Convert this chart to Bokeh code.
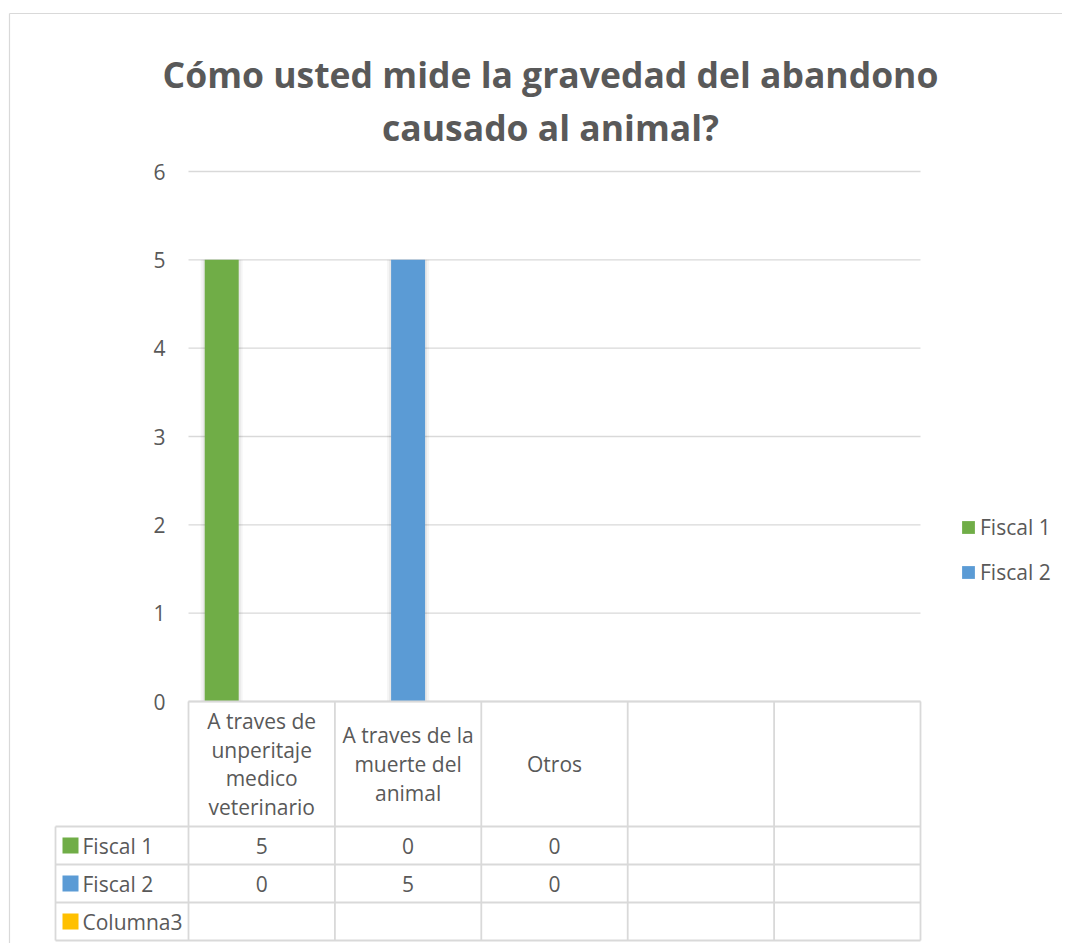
from bokeh.plotting import figure
from bokeh.models import Range1d, Legend, LegendItem, ColumnDataSource
from bokeh.core.properties import value
from bokeh.embed import file_html
from bokeh.resources import INLINE

# ---------------- data ----------------
title_lines = ["Cómo usted mide la gravedad del abandono", "causado al animal?"]
categories = ["A traves de\nunperitaje\nmedico\nveterinario",
              "A traves de la\nmuerte del\nanimal",
              "Otros", "", ""]
series_names = ["Fiscal 1", "Fiscal 2", "Columna3"]
fiscal_1 = [5, 0, 0, None, None]
fiscal_2 = [0, 5, 0, None, None]
columna_3 = [None, None, None, None, None]
y_ticks = [0, 1, 2, 3, 4, 5, 6]
y_tick_labels = ["0", "1", "2", "3", "4", "5", "6"]

series_values = [fiscal_1, fiscal_2, columna_3]
series_colors = ["#70AD47", "#5B9BD5", "#FFC000"]
series_in_legend = [True, True, False]

# ---------------- layout (canvas pixels) ----------------
W, H = 1062, 943
X0_PX, X5_PX = 188, 920          # category axis start / end
Y0_PX, Y6_PX = 701, 171          # value 0 / value 6
PXU_X = (X5_PX - X0_PX) / len(categories)
PXU_Y = (Y0_PX - Y6_PX) / (y_ticks[-1] - y_ticks[0])


def X(px):
    return (px - X0_PX) / PXU_X


def Y(py):
    return (Y0_PX - py) / PXU_Y


TEXT = "#595959"
GRID = "#D9D9D9"
FONT = value("Open Sans")
FS = value("21px")

p = figure(width=W, height=H, output_backend="svg", toolbar_location=None,
           x_axis_type=None, y_axis_type=None,
           x_range=Range1d(X(0), X(W)), y_range=Range1d(Y(H), Y(0)),
           min_border=0, outline_line_color=None)
p.background_fill_color = "white"
p.border_fill_color = "white"

# outer chart border
p.segment(x0=[X(9), X(9)], y0=[Y(13), Y(13)], x1=[X(9), X(W)], y1=[Y(H), Y(13)],
          line_color=GRID, line_width=1.2)

# title
p.text(x=[X(550)] * len(title_lines), y=[Y(73), Y(126)], text=title_lines,
       text_font=FONT, text_font_size=value("35.5px"), text_font_style="bold",
       text_color=TEXT, text_align="center", text_baseline="middle")

# gridlines (from tick values)
ncat = len(categories)
p.segment(x0=[0] * len(y_ticks), x1=[ncat] * len(y_ticks), y0=y_ticks, y1=y_ticks,
          line_color=GRID, line_width=1.4)

# y tick labels
p.text(x=[X(165)] * len(y_ticks), y=y_ticks, text=y_tick_labels,
       text_font=FONT, text_font_size=FS, text_color=TEXT,
       text_align="right", text_baseline="middle")

# bars
nser = len(series_names)
bar_w = 34 / PXU_X
step = 40 / PXU_X
bar_renderers = []
for s, (vals, col) in enumerate(zip(series_values, series_colors)):
    xs, tops = [], []
    for i, v in enumerate(vals):
        if v is not None:
            xs.append(i + 0.5 + (s - (nser - 1) / 2) * step)
            tops.append(v)
    src = ColumnDataSource(dict(x=xs, top=tops))
    # soft shadow
    p.vbar(x="x", top="top", bottom=0, width=bar_w + 8 / PXU_X, source=src,
           fill_color="black", fill_alpha=0.04, line_color=None)
    p.vbar(x="x", top="top", bottom=0, width=bar_w + 4 / PXU_X, source=src,
           fill_color="black", fill_alpha=0.05, line_color=None)
    r = p.vbar(x="x", top="top", bottom=0, width=bar_w, source=src,
               fill_color=col, line_color=None)
    bar_renderers.append(r)

# data table
row_top = 826
row_h = 38
row_edges = [row_top + k * row_h for k in range(nser + 1)]
row_centers = [row_top + (k + 0.5) * row_h for k in range(nser)]
left_px = 55

hx0 = [0] + [X(left_px)] * len(row_edges)
hx1 = [ncat] * (len(row_edges) + 1)
hy = [Y(Y0_PX)] + [Y(e) for e in row_edges]
p.segment(x0=hx0, x1=hx1, y0=hy, y1=hy, line_color=GRID, line_width=1.8)
vx = [X(left_px)] + list(range(ncat + 1))
vy0 = [Y(row_edges[0])] + [Y(Y0_PX)] * (ncat + 1)
vy1 = [Y(row_edges[-1])] * (ncat + 2)
p.segment(x0=vx, x1=vx, y0=vy0, y1=vy1, line_color=GRID, line_width=1.8)

# category header texts
p.text(x=[i + 0.5 for i in range(ncat)], y=[Y((Y0_PX + row_top) / 2)] * ncat,
       text=categories, text_font=FONT, text_font_size=FS,
       text_color=TEXT, text_align="center", text_baseline="middle",
       text_line_height=1.02)

# row keys & labels
p.scatter(x=[X(70)] * nser, y=[Y(c) for c in row_centers], marker="square",
          size=16, fill_color=series_colors, line_color=None)
p.text(x=[X(82)] * nser, y=[Y(c) for c in row_centers], text=series_names,
       text_font=FONT, text_font_size=FS, text_color=TEXT,
       text_align="left", text_baseline="middle")

# cell values
cx, cy, ct = [], [], []
for s, vals in enumerate(series_values):
    for i, v in enumerate(vals):
        if v is not None:
            cx.append(i + 0.5)
            cy.append(Y(row_centers[s]))
            ct.append(str(v))
p.text(x=cx, y=cy, text=ct, text_font=FONT, text_font_size=FS,
       text_color=TEXT, text_align="center", text_baseline="middle")

# legend
items = [LegendItem(label=n, renderers=[r])
         for n, r, show in zip(series_names, bar_renderers, series_in_legend) if show]
legend = Legend(items=items, location=(960, H - 586), orientation="vertical",
                label_text_font="Open Sans", label_text_font_size="21px",
                label_text_color=TEXT, glyph_width=16, glyph_height=16,
                label_standoff=4, spacing=17, padding=0, margin=0,
                border_line_color=None, background_fill_alpha=0)
p.add_layout(legend)

open("out.html", "w").write(file_html(p, INLINE))
